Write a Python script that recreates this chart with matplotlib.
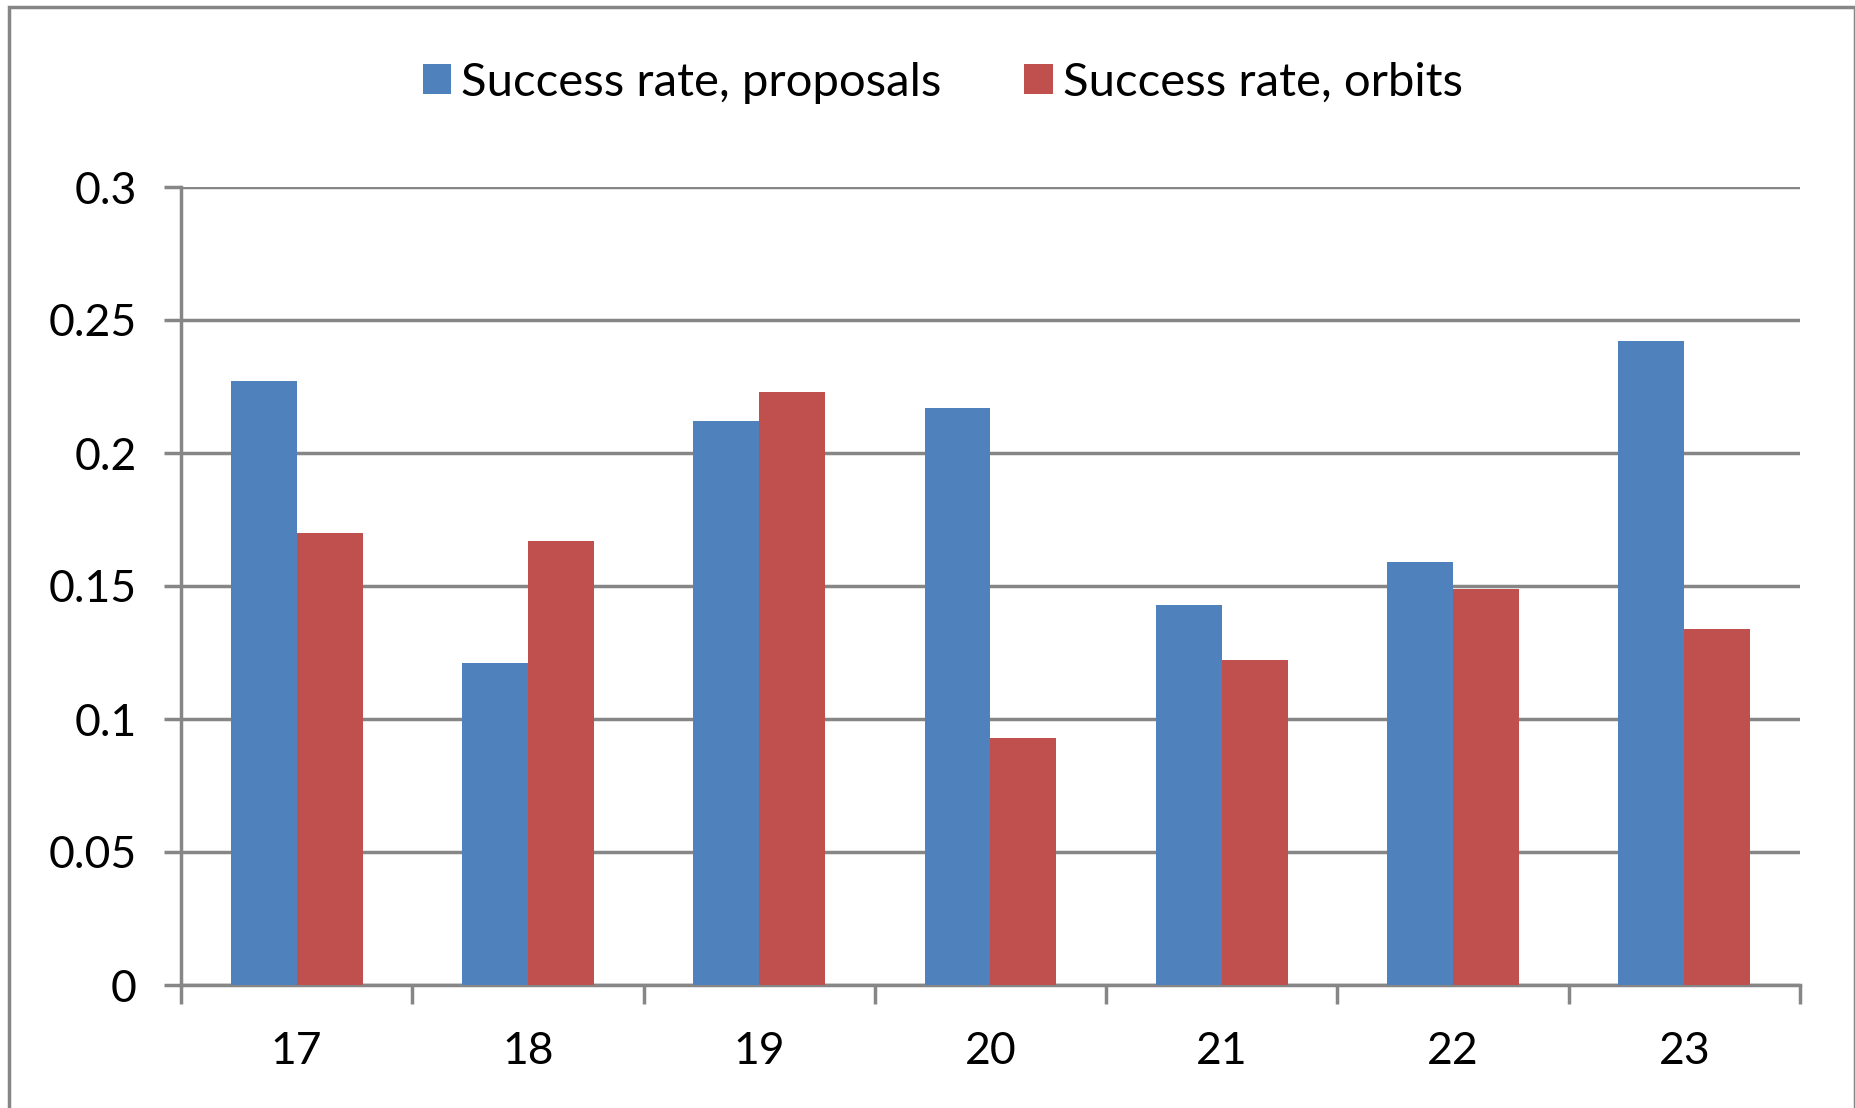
import matplotlib
matplotlib.use("Agg")
import matplotlib.pyplot as plt
from matplotlib.patches import Rectangle
import numpy as np

# data
categories = ["17", "18", "19", "20", "21", "22", "23"]
proposals = [0.227, 0.121, 0.212, 0.217, 0.143, 0.159, 0.242]
orbits = [0.170, 0.167, 0.223, 0.093, 0.122, 0.149, 0.134]
series_names = ["Success rate, proposals", "Success rate, orbits"]
yticks = [0, 0.05, 0.1, 0.15, 0.2, 0.25, 0.3]
ytick_labels = ["0", "0.05", "0.1", "0.15", "0.2", "0.25", "0.3"]

BLUE = "#4F81BD"
RED = "#C0504D"
GRAY = "#868686"

plt.rcParams["font.family"] = ["Lato", "DejaVu Sans"]
FS = 32

fig = plt.figure(figsize=(18.56, 11.08), dpi=100)
ax = fig.add_axes([181 / 1856, 123 / 1108, 1619 / 1856, 798 / 1108])

x = np.arange(len(categories))
w = 0.285
ax.bar(x - w / 2, proposals, width=w, color=BLUE, label=series_names[0], zorder=3)
ax.bar(x + w / 2, orbits, width=w, color=RED, label=series_names[1], zorder=3)

ax.set_xlim(-0.5, len(categories) - 0.5)
ax.set_ylim(0, 0.3)

# y axis
ax.set_yticks(yticks)
ax.set_yticklabels(ytick_labels, fontsize=FS)
ax.yaxis.grid(True, color=GRAY, linewidth=2.5, zorder=0)
ax.tick_params(axis="y", length=12, width=2.5, color=GRAY, pad=20)

# x axis: ticks at boundaries, labels at centres
ax.set_xticks(np.arange(len(categories) + 1) - 0.5)
ax.set_xticklabels([])
ax.set_xticks(x, minor=True)
ax.set_xticklabels(categories, minor=True, fontsize=FS)
ax.tick_params(axis="x", which="major", length=14, width=2.5, color=GRAY)
ax.tick_params(axis="x", which="minor", length=0, pad=33)

for side in ["top", "right"]:
    ax.spines[side].set_visible(False)
for side in ["left", "bottom"]:
    ax.spines[side].set_color(GRAY)
    ax.spines[side].set_linewidth(2.5)
ax.set_axisbelow(True)

fig.legend(loc="center", bbox_to_anchor=(0.508, 0.925), ncol=2, frameon=False,
           fontsize=34, handlelength=0.6, handleheight=0.6, handletextpad=0.22,
           columnspacing=1.75)

# outer chart border
fig.patches.append(Rectangle((9 / 1856, -0.1), 1846 / 1856, 1.1 - 7 / 1108,
                             transform=fig.transFigure, fill=False,
                             edgecolor=GRAY, linewidth=2.5))

fig.savefig("out.png", dpi=100)
